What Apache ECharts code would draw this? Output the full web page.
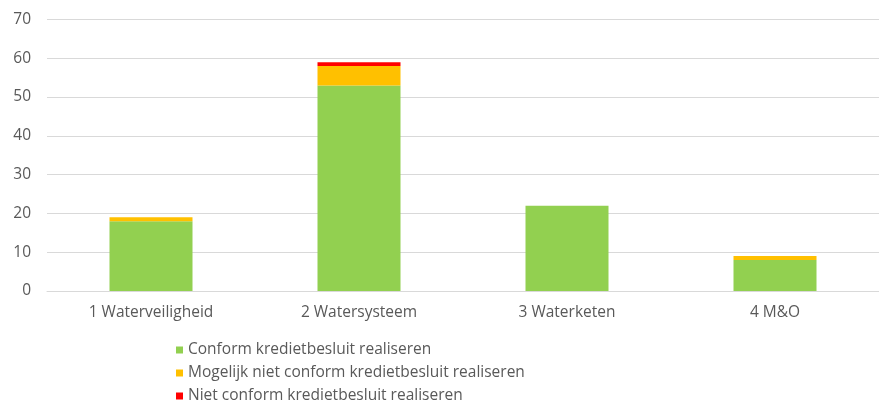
<!DOCTYPE html>
<html>
<head>
<meta charset="utf-8">
<script src="https://cdn.jsdelivr.net/npm/echarts@6/dist/echarts.min.js"></script>
<style>
html,body{margin:0;padding:0;background:#fff;}
#chart{width:879px;height:402px;}
</style>
</head>
<body>
<div id="chart"></div>
<script>
const categories = ['1 Waterveiligheid', '2 Watersysteem', '3 Waterketen', '4 M&O'];
const seriesNames = ['Conform kredietbesluit realiseren', 'Mogelijk niet conform kredietbesluit realiseren', 'Niet conform kredietbesluit realiseren'];
const conform = [18, 53, 22, 8];
const mogelijk = [1, 5, 0, 1];
const nietConform = [0, 1, 0, 0];
const yTicks = [0, 10, 20, 30, 40, 50, 60, 70];
const colors = ['#92D050', '#FFC000', '#FF0000'];

const chart = echarts.init(document.getElementById('chart'), null, {renderer: 'canvas'});
const font = '"Open Sans", "Noto Sans", sans-serif';
const dataSets = [conform, mogelijk, nietConform];
chart.setOption({
  animation: false,
  textStyle: {fontFamily: font},
  grid: {left: 47, top: 19.5, width: 837, height: 271.5, containLabel: false},
  legend: {
    orient: 'vertical',
    left: 176,
    top: 342,
    height: 70,
    padding: 0,
    itemWidth: 7,
    itemHeight: 7,
    itemGap: 7,
    icon: 'rect',
    textStyle: {color: '#595959', fontSize: 15.5, fontFamily: font, lineHeight: 15},
    data: seriesNames
  },
  xAxis: {
    type: 'category',
    data: categories,
    axisLine: {lineStyle: {color: '#d9d9d9', width: 1}},
    axisTick: {show: false},
    axisLabel: {color: '#595959', fontSize: 15.5, margin: 14, fontFamily: font}
  },
  yAxis: {
    type: 'value',
    min: yTicks[0],
    max: yTicks[yTicks.length - 1],
    interval: 10,
    axisLine: {show: false},
    axisTick: {show: false},
    splitLine: {lineStyle: {color: '#d9d9d9', width: 1}},
    axisLabel: {color: '#595959', fontSize: 15.5, margin: 16, fontFamily: font}
  },
  series: seriesNames.map((n, i) => ({
    name: n,
    type: 'bar',
    stack: 'total',
    barWidth: 83,
    data: dataSets[i],
    itemStyle: {color: colors[i]}
  }))
});
</script>
</body>
</html>
